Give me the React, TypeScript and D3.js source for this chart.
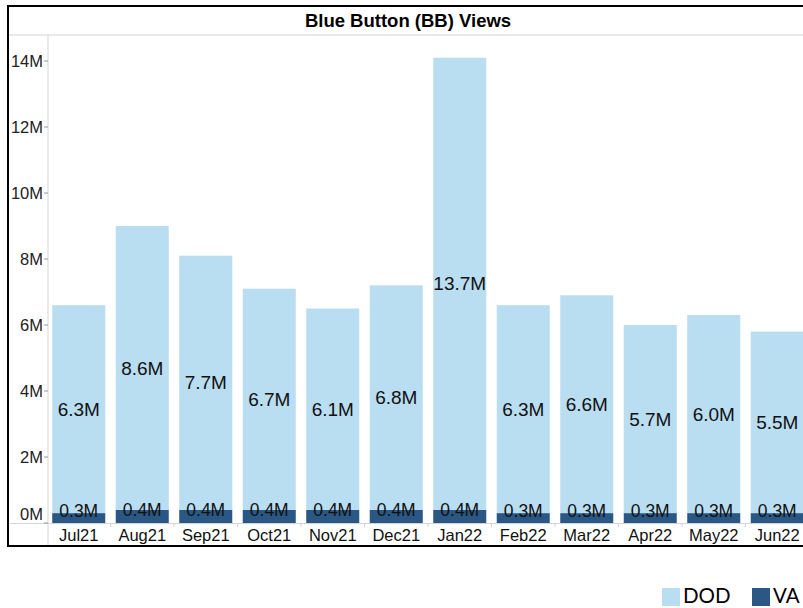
import React from "react";
import * as d3 from "d3";

// Monthly Blue Button views, in millions, split by agency
const months = ["Jul21", "Aug21", "Sep21", "Oct21", "Nov21", "Dec21", "Jan22", "Feb22", "Mar22", "Apr22", "May22", "Jun22"];
const vaViews = [0.3, 0.4, 0.4, 0.4, 0.4, 0.4, 0.4, 0.3, 0.3, 0.3, 0.3, 0.3];
const dodViews = [6.3, 8.6, 7.7, 6.7, 6.1, 6.8, 13.7, 6.3, 6.6, 5.7, 6.0, 5.5];
const yTicks = [0, 2, 4, 6, 8, 10, 12, 14];
const seriesNames = ["DOD", "VA"];

const W = 803;
const H = 608;
const LIGHT = "#b9ddf1";
const DARK = "#2a5783";
const GRID = "#d4d4d4";
const FONT = "'Liberation Sans', Arial, sans-serif";

export default function App() {
  const frameLeft = 8;
  const frameTop = 6;
  const titleBottom = 35;
  const axisX = 48;
  const baseY = 523;
  const frameBottom = 546;

  const x = d3.scaleBand<string>().domain(months).range([47, 47 + 63.5 * 12]).paddingInner(0.165).paddingOuter(0.0825);
  const y = d3.scaleLinear().domain([0, 14]).range([baseY, 61]);

  const rows = months.map((m, i) => ({ month: m, VA: vaViews[i], DOD: dodViews[i] }));
  const stacked = d3.stack<any>().keys(["VA", "DOD"])(rows);
  const fmt = (v: number) => `${v.toFixed(1)}M`;

  return (
    <svg width={W} height={H} style={{ position: "absolute", left: 0, top: 0, background: "#fff" }}>
      <defs>
        <clipPath id="pane">
          <rect x={axisX} y={titleBottom} width={W - axisX} height={frameBottom - titleBottom} />
        </clipPath>
      </defs>

      {/* title */}
      <text x={408} y={27} textAnchor="middle" fontFamily={FONT} fontWeight="bold" fontSize={18.5} fill="#000">
        Blue Button (BB) Views
      </text>

      {/* frame and divider lines */}
      <line x1={frameLeft} x2={W} y1={titleBottom} y2={titleBottom} stroke={GRID} strokeWidth={1} />
      <line x1={axisX} x2={axisX} y1={titleBottom} y2={frameBottom} stroke={GRID} strokeWidth={1} />
      <line x1={frameLeft} x2={W} y1={baseY + 0.5} y2={baseY + 0.5} stroke={GRID} strokeWidth={1} />

      {/* y axis */}
      {yTicks.map((t) => (
        <g key={t}>
          <line x1={axisX - 4} x2={axisX} y1={y(t)} y2={y(t)} stroke="#999" strokeWidth={1} />
          <text
            x={axisX - 5}
            y={t === 0 ? y(t) - 9 : y(t)}
            dy="0.35em"
            textAnchor="end"
            fontFamily={FONT}
            fontSize={16.5}
            fill="#222"
          >
            {`${t}M`}
          </text>
        </g>
      ))}

      {/* bars */}
      <g clipPath="url(#pane)">
        {stacked.map((layer) =>
          layer.map((seg, i) => (
            <rect
              key={layer.key + i}
              x={x(months[i])}
              width={x.bandwidth()}
              y={y(seg[1])}
              height={y(seg[0]) - y(seg[1])}
              fill={layer.key === "VA" ? DARK : LIGHT}
            />
          ))
        )}
        {/* value labels */}
        {stacked.map((layer) =>
          layer.map((seg, i) => {
            const cx = (x(months[i]) as number) + x.bandwidth() / 2;
            const isVA = layer.key === "VA";
            const mid = (y(seg[0]) + y(seg[1])) / 2;
            const v = seg[1] - seg[0];
            return (
              <text
                key={"l" + layer.key + i}
                x={cx}
                y={isVA ? mid - 7 : mid}
                dy="0.35em"
                textAnchor="middle"
                fontFamily={FONT}
                fontSize={isVA ? 17.5 : 19}
                fill="#111"
              >
                {fmt(v)}
              </text>
            );
          })
        )}
      </g>

      {/* x axis */}
      {months.map((m, i) => {
        const cx = (x(m) as number) + x.bandwidth() / 2;
        const bx = (x(m) as number) + x.bandwidth() + (x.step() - x.bandwidth()) / 2;
        return (
          <g key={m}>
            {i < months.length - 1 && (
              <line x1={bx} x2={bx} y1={baseY} y2={baseY + 4} stroke={GRID} strokeWidth={1} />
            )}
            <text x={cx} y={535.5} dy="0.35em" textAnchor="middle" fontFamily={FONT} fontSize={16.5} fill="#111">
              {m}
            </text>
          </g>
        );
      })}

      {/* outer frame */}
      <line x1={frameLeft} x2={W} y1={frameTop} y2={frameTop} stroke="#000" strokeWidth={2} />
      <line x1={frameLeft} x2={frameLeft} y1={frameTop - 1} y2={frameBottom + 1} stroke="#000" strokeWidth={2} />
      <line x1={frameLeft} x2={W} y1={frameBottom} y2={frameBottom} stroke="#000" strokeWidth={2} />

      {/* legend */}
      {seriesNames.map((name, i) => {
        const lx = [662, 752][i];
        return (
          <g key={name}>
            <rect x={lx} y={588} width={18} height={18} fill={name === "VA" ? DARK : LIGHT} />
            <text x={lx + 21} y={603} fontFamily="Lato, 'Open Sans', sans-serif" fontSize={20.5} fill="#000">
              {name}
            </text>
          </g>
        );
      })}
    </svg>
  );
}
